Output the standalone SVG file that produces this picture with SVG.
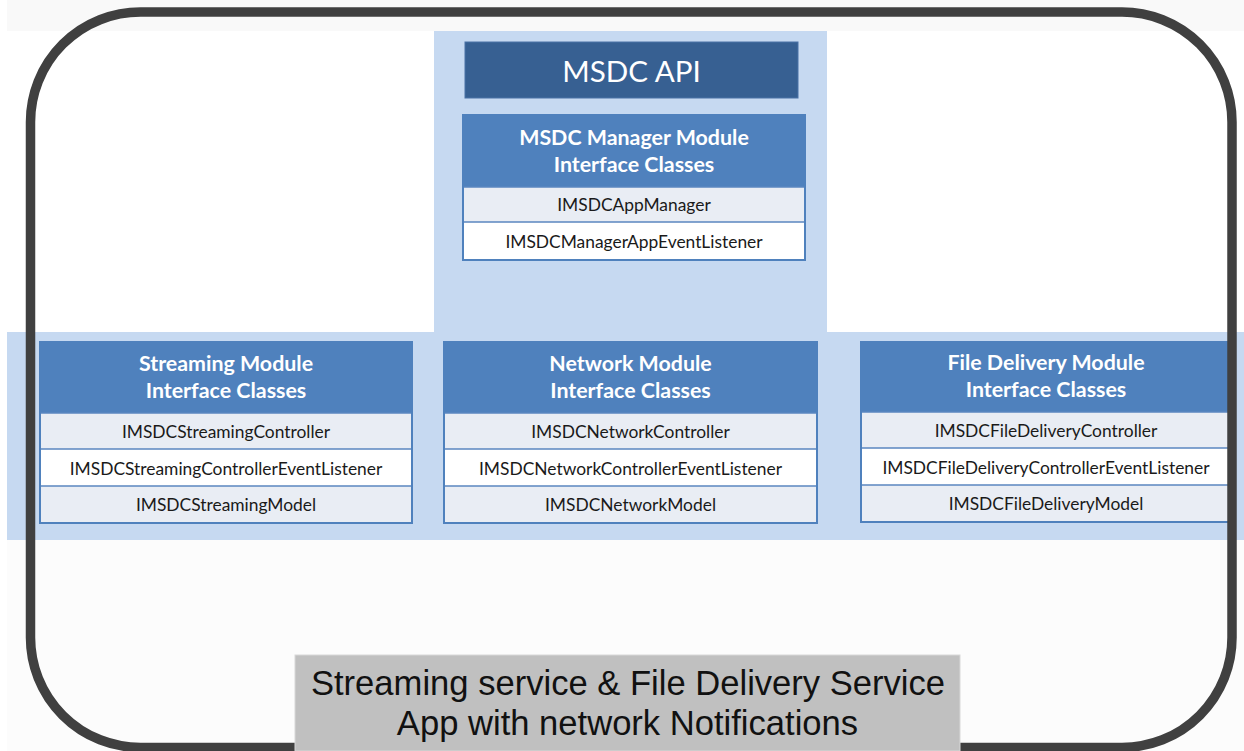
<svg xmlns="http://www.w3.org/2000/svg" width="1244" height="751" viewBox="0 0 1244 751">
  <style>
    .band { fill: #c6d9f1; }
    .hdr { fill: #4f81bd; }
    .rowA { fill: #e9edf4; }
    .rowB { fill: #ffffff; }
    .sep { stroke: #5b87c0; stroke-width: 1.5; fill: none; }
    .outline { fill: none; stroke: #4f81bd; stroke-width: 2; }
    .htxt { font-family: Lato, "Open Sans", sans-serif; font-weight: bold; font-size: 21.4px; fill: #ffffff; text-anchor: middle; }
    .rtxt { font-family: Lato, "Open Sans", sans-serif; font-size: 17.4px; fill: #1a1a1a; text-anchor: middle; }
    .api { font-family: Lato, "Open Sans", sans-serif; font-size: 29.6px; fill: #ffffff; text-anchor: middle; }
    .app { font-family: "Liberation Sans", Arial, sans-serif; font-size: 34.6px; fill: #111111; text-anchor: middle; }
  </style>

  <!-- page tint -->
  <rect x="7" y="0" width="1237" height="31" fill="#f9f9f9"/>
  <rect x="7" y="540" width="1237" height="211" fill="#fcfcfc"/>

  <!-- light blue T-shaped backdrop -->
  <rect class="band" x="434" y="31" width="393" height="302"/>
  <rect class="band" x="7" y="332" width="1237" height="208"/>

  <!-- API title -->
  <g id="msdc-api">
    <rect x="465" y="42" width="333" height="56" fill="#376092" stroke="#4a72a6" stroke-width="1"/>
    <text class="api" x="631.5" y="82">MSDC API</text>
  </g>

  <!-- Manager module -->
  <g id="manager-module">
    <rect class="hdr" x="463" y="115" width="342" height="72"/>
    <rect class="rowA" x="463" y="187" width="342" height="35"/>
    <rect class="rowB" x="463" y="222" width="342" height="38"/>
    <path class="sep" d="M463 187H805M463 222H805"/>
    <rect class="outline" x="463" y="115" width="342" height="145"/>
    <text class="htxt" x="634" y="144.5">MSDC Manager Module</text>
    <text class="htxt" x="634" y="171.5">Interface Classes</text>
    <text class="rtxt" x="634" y="211">IMSDCAppManager</text>
    <text class="rtxt" x="634" y="247.5">IMSDCManagerAppEventListener</text>
  </g>

  <!-- Streaming module -->
  <g id="streaming-module">
    <rect class="hdr" x="40" y="342" width="372" height="71"/>
    <rect class="rowA" x="40" y="413" width="372" height="36"/>
    <rect class="rowB" x="40" y="449" width="372" height="37"/>
    <rect class="rowA" x="40" y="486" width="372" height="37"/>
    <path class="sep" d="M40 413H412M40 449H412M40 486H412"/>
    <rect class="outline" x="40" y="342" width="372" height="181"/>
    <text class="htxt" x="226" y="371">Streaming Module</text>
    <text class="htxt" x="226" y="398">Interface Classes</text>
    <text class="rtxt" x="226" y="437.5">IMSDCStreamingController</text>
    <text class="rtxt" x="226" y="474.5">IMSDCStreamingControllerEventListener</text>
    <text class="rtxt" x="226" y="511">IMSDCStreamingModel</text>
  </g>

  <!-- Network module -->
  <g id="network-module">
    <rect class="hdr" x="444" y="342" width="373" height="71"/>
    <rect class="rowA" x="444" y="413" width="373" height="36"/>
    <rect class="rowB" x="444" y="449" width="373" height="37"/>
    <rect class="rowA" x="444" y="486" width="373" height="37"/>
    <path class="sep" d="M444 413H817M444 449H817M444 486H817"/>
    <rect class="outline" x="444" y="342" width="373" height="181"/>
    <text class="htxt" x="630.5" y="371">Network Module</text>
    <text class="htxt" x="630.5" y="398">Interface Classes</text>
    <text class="rtxt" x="630.5" y="437.5">IMSDCNetworkController</text>
    <text class="rtxt" x="630.5" y="474.5">IMSDCNetworkControllerEventListener</text>
    <text class="rtxt" x="630.5" y="511">IMSDCNetworkModel</text>
  </g>

  <!-- File delivery module -->
  <g id="file-delivery-module">
    <rect class="hdr" x="861" y="342" width="372" height="70"/>
    <rect class="rowA" x="861" y="412" width="372" height="36"/>
    <rect class="rowB" x="861" y="448" width="372" height="37"/>
    <rect class="rowA" x="861" y="485" width="372" height="37"/>
    <path class="sep" d="M861 412H1233M861 448H1233M861 485H1233"/>
    <rect class="outline" x="861" y="342" width="372" height="180"/>
    <text class="htxt" x="1046" y="370">File Delivery Module</text>
    <text class="htxt" x="1046" y="397">Interface Classes</text>
    <text class="rtxt" x="1046" y="436.5">IMSDCFileDeliveryController</text>
    <text class="rtxt" x="1046" y="473.5">IMSDCFileDeliveryControllerEventListener</text>
    <text class="rtxt" x="1046" y="510">IMSDCFileDeliveryModel</text>
  </g>

  <!-- outer rounded frame -->
  <rect x="30.5" y="12" width="1201.5" height="735.5" rx="110" ry="110" fill="none" stroke="#404040" stroke-width="9.5"/>

  <!-- application box -->
  <g id="app">
    <rect x="295" y="655" width="665" height="96" fill="#c0c0c0" stroke="#d8d8d8" stroke-width="1"/>
    <text class="app" x="628" y="695">Streaming service &amp; File Delivery Service</text>
    <text class="app" x="627.5" y="735">App with network Notifications</text>
  </g>
</svg>
